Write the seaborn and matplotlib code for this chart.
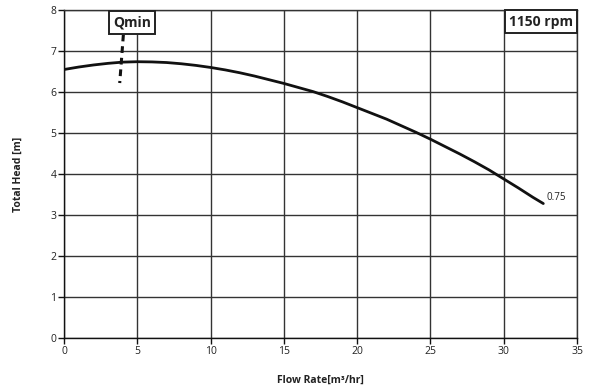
import matplotlib
matplotlib.use("Agg")
import matplotlib.pyplot as plt
import seaborn as sns
import pandas as pd

flow = [0, 1, 2, 3, 4, 5, 6, 7, 8, 9, 10, 11, 12, 13, 14, 15, 16, 17, 18, 19,
        20, 21, 22, 23, 24, 25, 26, 27, 28, 29, 30, 31, 32, 32.7]
head = [6.55, 6.61, 6.66, 6.70, 6.73, 6.74, 6.735, 6.72, 6.69, 6.65, 6.60, 6.54,
        6.47, 6.39, 6.30, 6.21, 6.11, 6.01, 5.89, 5.76, 5.62, 5.48, 5.34, 5.18,
        5.02, 4.85, 4.67, 4.49, 4.30, 4.10, 3.88, 3.66, 3.43, 3.28]
curve_label = "0.75"
qmin_flow = [4.05, 3.8]
qmin_head = [7.4, 6.22]
xticks = [0, 5, 10, 15, 20, 25, 30, 35]
yticks = [0, 1, 2, 3, 4, 5, 6, 7, 8]

sns.set_theme(style="white")
plt.rcParams['font.family'] = ['Open Sans', 'DejaVu Sans']

fig = plt.figure(figsize=(5.9, 3.87), dpi=100)
ax = fig.add_axes([0.1085, 0.1266, 0.8695, 0.8474])

df = pd.DataFrame({"flow": flow, "head": head})
sns.lineplot(data=df, x="flow", y="head", ax=ax, color="#111111", linewidth=2)
ax.plot(qmin_flow, qmin_head, color="#111111", linewidth=2.2, linestyle=(0, (2.2, 1.6)))

ax.set_xlim(0, 35)
ax.set_ylim(0, 8)
ax.set_xticks(xticks)
ax.set_yticks(yticks)
ax.grid(True, color="#333333", linewidth=1)
for s in ["left", "bottom"]:
    ax.spines[s].set_color("#111111")
    ax.spines[s].set_linewidth(1)
for s in ["top", "right"]:
    ax.spines[s].set_color("#333333")
    ax.spines[s].set_linewidth(1)
ax.tick_params(axis="both", which="both", direction="out", length=4, width=1,
               color="#111111", labelsize=7.5, labelcolor="#222222", pad=1.5,
               left=True, bottom=True)

ax.set_xlabel("Flow Rate[m³/hr]", fontsize=7.5, fontweight="bold", color="#222222", labelpad=13)
ax.set_ylabel("Total Head [m]", fontsize=7.5, fontweight="bold", color="#222222", labelpad=19)

ax.text(flow[-1] + 0.25, head[-1] + 0.15, curve_label, fontsize=7, color="#222222",
        ha="left", va="center")

ax.text(4.64, 7.70, "Qmin", fontsize=10, fontweight="bold", color="#222222",
        ha="center", va="center",
        bbox=dict(boxstyle="square,pad=0.32", facecolor="white", edgecolor="#222222", linewidth=1.4))

ax.text(32.52, 7.72, "1150 rpm", fontsize=10, fontweight="bold", color="#222222",
        ha="center", va="center",
        bbox=dict(boxstyle="square,pad=0.3", facecolor="white", edgecolor="#222222", linewidth=1.4))

fig.savefig("out.png", dpi=100)
